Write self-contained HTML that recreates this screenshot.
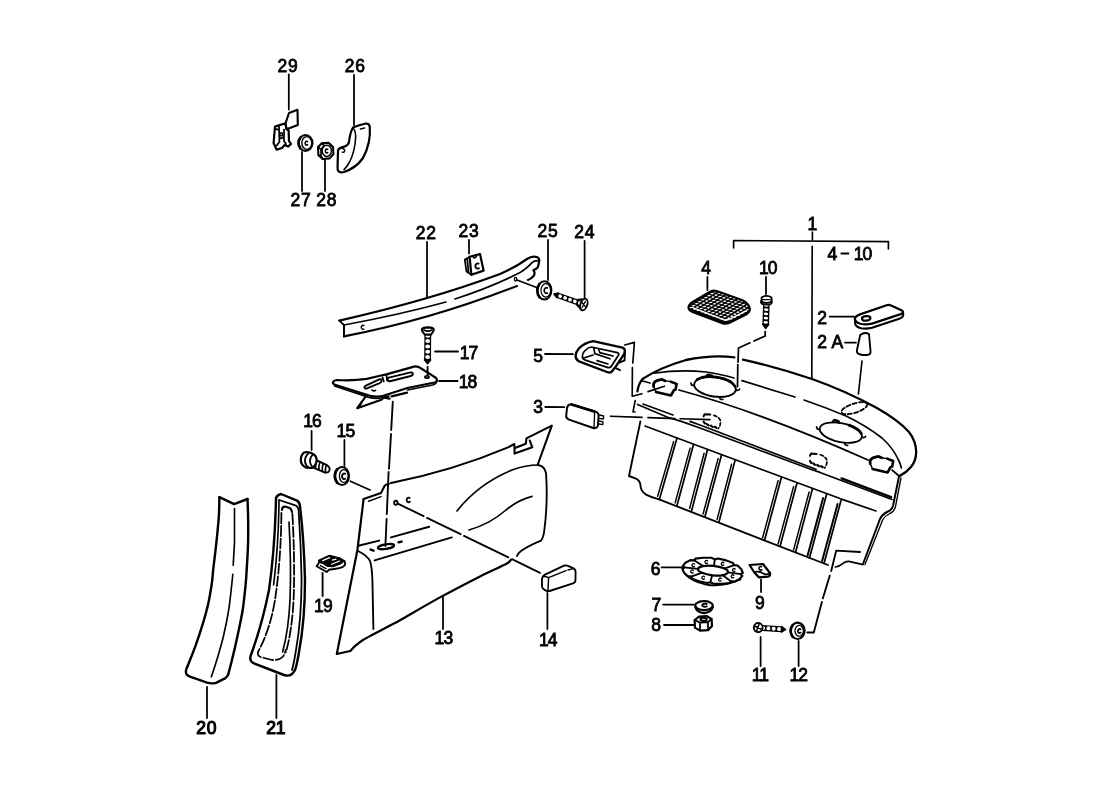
<!DOCTYPE html>
<html lang="en">
<head>
<meta charset="utf-8">
<title>Parts diagram</title>
<style>
html,body{margin:0;padding:0;background:#fff;}
body{width:1100px;height:800px;overflow:hidden;}
svg{display:block;filter:grayscale(1);}
svg path,svg line,svg ellipse,svg circle,svg polyline,svg polygon,svg rect{stroke:#000;fill:none;stroke-linecap:round;stroke-linejoin:round;}
svg text{font-family:"Liberation Sans",sans-serif;font-size:17.5px;fill:#000;stroke:#000;stroke-width:0.8px;letter-spacing:0.7px;}
</style>
</head>
<body>
<svg width="1100" height="800" viewBox="0 0 1100 800">
<rect x="0" y="0" width="1100" height="800" style="fill:#fff;stroke:none"/>
<!-- leaders -->
<line x1="288.8" y1="74.5" x2="288.8" y2="109.6" stroke-width="1.76" />
<line x1="354" y1="75" x2="354" y2="125" stroke-width="1.76" />
<line x1="302" y1="152" x2="302" y2="191" stroke-width="1.76" />
<line x1="325" y1="159" x2="325" y2="191" stroke-width="1.76" />
<line x1="427" y1="242" x2="427" y2="298" stroke-width="1.76" />
<line x1="469" y1="240" x2="469" y2="253.6" stroke-width="1.76" />
<line x1="548" y1="240" x2="548" y2="280" stroke-width="1.76" />
<line x1="584.6" y1="241" x2="584.6" y2="298" stroke-width="1.76" />
<line x1="435" y1="351.5" x2="458" y2="351.5" stroke-width="1.76" />
<line x1="439" y1="381" x2="457.6" y2="381" stroke-width="1.76" />
<line x1="545" y1="354" x2="573" y2="354.2" stroke-width="1.76" />
<line x1="545.3" y1="407" x2="564.4" y2="407.2" stroke-width="1.76" />
<line x1="707.4" y1="277" x2="707.4" y2="290" stroke-width="1.76" />
<line x1="766" y1="277" x2="766" y2="294" stroke-width="1.76" />
<line x1="829.6" y1="316.6" x2="854" y2="316.6" stroke-width="1.76" />
<line x1="845" y1="342.6" x2="856" y2="342.6" stroke-width="1.76" />
<line x1="311.6" y1="431" x2="311.6" y2="450" stroke-width="1.76" />
<line x1="344.4" y1="440" x2="344.4" y2="466" stroke-width="1.76" />
<line x1="443" y1="597" x2="443" y2="629" stroke-width="1.76" />
<line x1="547.4" y1="593" x2="547.4" y2="629" stroke-width="1.76" />
<line x1="661.6" y1="567.4" x2="682" y2="567.4" stroke-width="1.76" />
<line x1="663" y1="604.6" x2="694" y2="604.6" stroke-width="1.76" />
<line x1="664" y1="625" x2="694" y2="625" stroke-width="1.76" />
<line x1="761" y1="579.4" x2="761" y2="592" stroke-width="1.76" />
<line x1="760.6" y1="637" x2="760.6" y2="666" stroke-width="1.76" />
<line x1="798.6" y1="641" x2="798.6" y2="666" stroke-width="1.76" />
<line x1="207" y1="687" x2="207" y2="718" stroke-width="1.76" />
<line x1="276.4" y1="675" x2="276.4" y2="718" stroke-width="1.76" />
<path d="M733.6,248 L733.6,240.6 L888.4,241.6 L888.4,249" stroke-width="1.65" />
<line x1="812.4" y1="232" x2="812.4" y2="240" stroke-width="1.65" />
<line x1="812.2" y1="246.4" x2="811.8" y2="378" stroke-width="1.65" />
<!-- 29 -->
<path d="M289,113 L297.5,109.8 L297.8,125 L286.6,129.2 L285.4,123.6 Z" stroke-width="2.09" />
<path d="M275,126.6 L285.4,123.2 L286.6,129.2 L288.6,130.2 L289,141 L291,144 L288,146.6 L284.6,145 L282,148 L276.6,149.6 L273.6,143 Z" stroke-width="2.2" />
<path d="M279,126.6 L279.4,142 M275,128.6 L279,130 M284,129.6 L284,141 L286,144 M279.4,142 L276.6,145.6 M279.4,138.6 L284,137.4" stroke-width="1.76" />
<ellipse cx="281.2" cy="134.4" rx="1.3" ry="1.6" stroke-width="1.65" />
<!-- 27 -->
<ellipse cx="305.5" cy="143" rx="7" ry="8" stroke-width="2.09" />
<ellipse cx="306.8" cy="143" rx="5" ry="6.4" stroke-width="1.43" />
<path d="M300.4,137.6 A7 8 0 0 0 300.4,148.4" stroke-width="2.6" />
<path d="M307.6,141.6 A1.6 1.9 0 1 0 307.6,144.8" stroke-width="1.54" />
<!-- 28 -->
<path d="M318,147 L321.6,143.4 L328.6,142.8 L333,147 L333.4,154 L329.6,158.4 L322.6,159 L318.4,155 Z" stroke-width="2.09" />
<path d="M318,147 L321,149.4 L321,156 L318.4,155 M321,149.4 L324,145.4 L321.6,143.4 M321,156 L322.6,159" stroke-width="1.65" />
<ellipse cx="326.8" cy="150.8" rx="4.6" ry="5.6" stroke-width="1.54" />
<path d="M327.8,149.4 A1.6 1.9 0 1 0 327.8,152.6" stroke-width="1.54" />
<!-- 26 -->
<path d="M353,127.5 Q359,125 366,123.5 Q369.4,123.4 369.8,127 Q371,143 363,158 Q356,168 344,172 Q339.6,173 338,170.6 Q337.4,169 337.6,166 L338,151 Q338.2,148.6 341,147.6 L345,146.4 Q348.4,145 349,142 Q350,132.6 353,127.5 Z" stroke-width="2.2" />
<path d="M353,128 Q356,131 355.6,138 Q355,151 349.6,162 Q347,166.6 344,169.6" stroke-width="1.54" />
<line x1="360.4" y1="129" x2="364.6" y2="128" stroke-width="1.54" />
<path d="M341.6,148.2 Q345.2,148.8 344.6,151.2 Q344,152.6 342.4,152.2" stroke-width="1.54" />
<!-- 22 -->
<path d="M339.4,320.6 Q430,300 500,274 Q516,267 527,259 Q533,255 538,257.6 Q540,259 539,262 L538,267 Q536,269.6 533.4,270 Q535.6,273 533.6,276 Q531,279 528,280" stroke-width="2.2" />
<path d="M339.4,320.6 L344,325 L344,336.4" stroke-width="1.98" />
<path d="M344,325 Q400,314.6 446,302" stroke-width="1.65" />
<path d="M455,299 Q492,287 520,272.6 Q528,267.4 532,262.6 Q534,260.4 538.6,260.6" stroke-width="1.65" />
<path d="M344,336.4 Q430,320 517,286" stroke-width="2.09" />
<path d="M364,325.6 A1.8 2 0 1 0 364,329" stroke-width="1.32" />
<ellipse cx="515.6" cy="279.2" rx="1.2" ry="1.8" stroke-width="1.32" />
<line x1="517" y1="280" x2="538" y2="288" stroke-width="1.54" />
<!-- 23 -->
<path d="M469.6,256.8 L480,254 L483.6,270.6 L471.4,274.8 Z" stroke-width="2.2" />
<path d="M469.6,257 L464.8,259.6 L466.4,271.4 L471.4,274.8 M467.2,259.2 L468.6,272.6" stroke-width="1.76" />
<path d="M478.6,263.6 A2.4 2.6 0 1 0 479,268.2" stroke-width="1.87" />
<path d="M472.8,256.6 Q474.6,259.6 476.8,255.6" stroke-width="1.65" />
<!-- 25 -->
<ellipse cx="544.4" cy="290.4" rx="7" ry="9.2" stroke-width="1.98" />
<path d="M539.4,284 A7 9.2 0 0 0 539.6,297.4" stroke-width="2.6" />
<ellipse cx="545.8" cy="290.4" rx="4.8" ry="6.8" stroke-width="1.21" />
<path d="M547.4,288 A2.2 2.8 0 1 0 547.4,293" stroke-width="1.65" />
<!-- 24 -->
<path d="M554.0,294.0 L556.9,297.7 L558.6,293.0 Z" stroke-width="1.54" style="fill:#000"/>
<line x1="557.8" y1="295.3" x2="582.2" y2="304.0" stroke-width="5.6" style="stroke-linecap:butt"/>
<ellipse cx="560.2" cy="296.2" rx="1.89" ry="1.80" transform="rotate(19.6 560.2 296.2)" style="fill:#fff;stroke:none"/>
<ellipse cx="565.1" cy="297.9" rx="1.89" ry="1.80" transform="rotate(19.6 565.1 297.9)" style="fill:#fff;stroke:none"/>
<ellipse cx="570.0" cy="299.7" rx="1.89" ry="1.80" transform="rotate(19.6 570.0 299.7)" style="fill:#fff;stroke:none"/>
<ellipse cx="574.9" cy="301.4" rx="1.89" ry="1.80" transform="rotate(19.6 574.9 301.4)" style="fill:#fff;stroke:none"/>
<ellipse cx="579.8" cy="303.2" rx="1.89" ry="1.80" transform="rotate(19.6 579.8 303.2)" style="fill:#fff;stroke:none"/>
<ellipse cx="583.8" cy="304.6" rx="3.4" ry="6" stroke-width="1.87" transform="rotate(19.6 583.8 304.6)" style="fill:#fff"/>
<path d="M578,299.6 L582.6,299 M576.6,304.6 L581.4,309.6" stroke-width="1.54" />
<path d="M581.6,302 L585.6,307 M585.4,301.4 L582,307.6" stroke-width="1.21" />
<!-- 17 -->
<path d="M427.6,363.8 L430.7,359.8 L424.5,359.8 Z" stroke-width="1.54" style="fill:#000"/>
<line x1="427.6" y1="359.8" x2="427.8" y2="333.0" stroke-width="6.8" style="stroke-linecap:butt"/>
<ellipse cx="427.6" cy="357.1" rx="1.98" ry="2.40" transform="rotate(-89.6 427.6 357.1)" style="fill:#fff;stroke:none"/>
<ellipse cx="427.7" cy="351.8" rx="1.98" ry="2.40" transform="rotate(-89.6 427.7 351.8)" style="fill:#fff;stroke:none"/>
<ellipse cx="427.7" cy="346.4" rx="1.98" ry="2.40" transform="rotate(-89.6 427.7 346.4)" style="fill:#fff;stroke:none"/>
<ellipse cx="427.7" cy="341.1" rx="1.98" ry="2.40" transform="rotate(-89.6 427.7 341.1)" style="fill:#fff;stroke:none"/>
<ellipse cx="427.8" cy="335.7" rx="1.98" ry="2.40" transform="rotate(-89.6 427.8 335.7)" style="fill:#fff;stroke:none"/>
<path d="M421.8,329.6 Q422.4,327.6 427.8,327.4 Q433.4,327.6 433.8,329.6 Q433.6,331.6 431,334.6 L424.8,334.6 Q422,331.6 421.8,329.6 Z" stroke-width="2.09" style="fill:#fff"/>
<path d="M424,330 Q427.8,332.2 431.8,330" stroke-width="1.65" />
<line x1="427.6" y1="366.8" x2="427.6" y2="375" stroke-width="1.87" />
<!-- 18 -->
<path d="M332.9,382.6 Q333.4,380.4 337,380 Q352,381 366.7,378.9 L379,376 L386.4,374.4 L414,366.6 Q417.6,366 420.8,368.2 L429.8,373.9 L436,378 Q437.6,379.6 436.4,381.4 Q435,383 432,383 L407.3,388 L388.1,394.2 Q382,396.4 378,396.6 Q374,396.8 370,395.8 L335,384.8 Q332.6,384 332.9,382.6 Z" stroke-width="2.2" />
<path d="M334.6,386 L369,397.4 Q374,398.6 379,398.2 L389,396 M407.6,390 L432.6,385 Q436.6,384 436.8,381" stroke-width="1.65" />
<path d="M365.4,385.8 L379.2,379.4 Q381.8,378.8 381.6,380.8 Q381.4,382.4 379.6,383.2 L367,388.4 Q364.6,388.8 364.4,387.2 Q364.4,386.2 365.4,385.8 Z" stroke-width="1.98" />
<path d="M388.8,377.6 L410.6,372.4 Q413,372.2 412.8,374 Q412.6,375.4 410.8,376 L390,381.2 Q387.6,381.4 387.6,379.6 Q387.6,378.2 388.8,377.6 Z" stroke-width="1.98" />
<path d="M382.6,377.4 L383.8,381.4 M386.6,375 L387,380.4" stroke-width="1.76" />
<path d="M372,390 Q373.6,391.6 375.6,390.4" stroke-width="1.65" />
<ellipse cx="427" cy="377" rx="2.1" ry="1.2" stroke-width="1.65" />
<path d="M365.6,396.6 L357.2,408.2 L381.4,399.8 L383.8,397.4" stroke-width="2.09" />
<path d="M361.6,402.6 L359.4,406.6" stroke-width="1.76" />
<path d="M384.8,397.6 L389.4,398.6 M391.6,396.4 L407,392.6" stroke-width="2.4" />
<!-- 16 -->
<path d="M313,458.6 L327,465.2 Q330.4,467.4 329.4,470.6 Q328,473.4 324.6,472.4 L311,466.6 Z" stroke-width="1.87" style="fill:#fff"/>
<path d="M316.6,460.6 Q315,463.6 315.6,468.4 M320,462.2 Q318.4,465.4 319,470 M323.2,463.8 Q321.8,467 322.4,471.4 M326.2,465.2 Q325,468.4 325.6,472.4" stroke-width="1.65" />
<path d="M304,452.6 Q307,451.4 310.6,452.8 L314.6,455 Q317.6,458 316.2,463 Q314.6,467.2 311.4,468 L306,467.6 Q301,465.4 300.8,460 Q300.8,455 304,452.6 Z" stroke-width="2.2" style="fill:#fff"/>
<path d="M308.4,453.4 Q304.6,457 305,461.6 Q305.6,465.6 308.6,467.4" stroke-width="1.87" />
<path d="M312.4,455 Q309.6,458 310,462 Q310.6,465.4 312.4,467" stroke-width="1.65" />
<!-- 15 -->
<ellipse cx="342" cy="476" rx="7" ry="9" stroke-width="2.09" />
<path d="M337,469.4 A7 9 0 0 0 337.2,482.8" stroke-width="2.8" />
<ellipse cx="343.8" cy="476" rx="4.4" ry="6.4" stroke-width="1.32" />
<path d="M345.2,473.8 A2.2 2.8 0 1 0 345.2,478.8" stroke-width="1.87" />
<line x1="350.4" y1="481.2" x2="370" y2="490" stroke-width="1.76" />
<!-- 13 -->
<path d="M391,483 Q452,471 508,447.4 L514.3,444 L514.6,453.6 L532.3,447.3 L529.8,440.6" stroke-width="2.09" />
<path d="M515,448 L525.8,443.8 L526.4,438.4 L551.8,425.6 L537.6,465" stroke-width="2.09" />
<path d="M538,465 Q544.6,466 546,473 Q548,500 544.6,528 Q543.6,538 541,540.6 Q528,546 521,551 Q517.6,553.6 517,556" stroke-width="1.87" />
<path d="M457,511 Q478,484 512,470 Q526,465 538,465" stroke-width="1.65" />
<path d="M469,530 Q490,524 506,510 Q518,500 532,496.4" stroke-width="1.65" />
<path d="M363.6,499 L381,493 L384.6,485.8 Q386,484.4 389,484" stroke-width="2.09" />
<line x1="368.6" y1="501.2" x2="381" y2="496.6" stroke-width="1.54" />
<path d="M363.6,499 L357.4,550 L336.8,654 L350.2,651" stroke-width="2.2" />
<path d="M350.2,651.0 C351.1,650.1 353.7,647.2 355.8,645.4 C357.9,643.6 360.3,641.7 363.0,640.0 C365.7,638.3 367.5,637.4 372.0,635.0 C376.5,632.6 385.3,628.1 390.0,625.6 C394.7,623.1 391.7,624.9 400.0,620.2 C408.3,615.5 426.7,604.7 440.0,597.4 C453.3,590.1 469.0,582.0 480.0,576.4 C491.0,570.8 500.8,566.8 506.0,564.0 C511.2,561.2 510.2,560.3 511.0,559.6" stroke-width="2.2" />
<path d="M358.4,545.8 L379.2,540.6 M391,537.4 L429.2,526.8" stroke-width="1.98" />
<line x1="374.6" y1="560.4" x2="451.8" y2="537.4" stroke-width="1.98" />
<path d="M358,551 Q367,555.4 370,561 Q372,567 372.4,580 L373.4,629" stroke-width="1.87" />
<ellipse cx="386" cy="546.6" rx="8.2" ry="2.3" stroke-width="2.2" transform="rotate(-9 386 546.6)" />
<path d="M370.6,549.6 L373.6,550.6 M398.6,542.2 L401.6,541.6" stroke-width="2.42" />
<ellipse cx="395.8" cy="502.8" rx="1.7" ry="2.1" stroke-width="1.87" />
<path d="M409.6,498 A1.9 2.3 0 1 0 409.8,501.6" stroke-width="1.87" />
<path d="M397.8,503.6 L423.6,516.2 M427,517.9 L460.6,534.2 M464,535.9 L508.4,557.4 M512,559.2 L540,572.8" stroke-width="1.87" />
<path d="M392.8,401.6 L391.2,430 M391,434 L389,468.6 M388.6,472 L386.8,514 M386.6,519 L385.4,546" stroke-width="1.87" />
<!-- 14 -->
<path d="M542,578.6 Q542.4,576 545,574.6 L564,565.6 Q566,565 568,565.8 L574,568.6 Q575.6,569.6 575.6,572 L575.4,581 Q575,582.6 573,583.4 L549.6,591 Q547.6,591.4 546,590.6 L543.4,589 Q542,588 542,586 Z" stroke-width="1.87" />
<path d="M548.6,577.6 L548,590.6 M543,576.6 Q546,576.4 548.6,577.6 L566,570.6 M568,570 L573,568.6" stroke-width="1.43" />
<!-- 20 -->
<path d="M219.4,497.1 L234.1,504.2 L247.5,499" stroke-width="2.42" />
<path d="M219.4,497.1 C219.3,500.4 219.3,509.3 218.8,516.9 C218.3,524.4 217.3,533.9 216.4,542.4 C215.5,550.9 214.2,560.8 213.4,567.9 C212.6,575.0 212.5,579.0 211.6,585.0 C210.7,591.0 209.6,597.7 208.2,604.1 C206.8,610.5 205.1,616.2 203.0,623.2 C200.9,630.2 198.0,639.0 195.4,646.2 C192.8,653.4 188.7,663.2 187.4,666.6" stroke-width="2.42" />
<path d="M187.4,666.6 Q185,671.6 186.4,674 Q187.4,675.6 190,676.6 L207,682.6 Q212,684 216,682.8 L225,678.4 Q227.4,677 228.2,674.4" stroke-width="2.42" />
<path d="M247.5,499.0 C247.6,502.0 248.0,509.7 248.1,516.9 C248.2,524.1 248.3,533.9 248.1,542.4 C247.9,550.9 247.2,560.8 246.8,567.9 C246.4,575.0 246.3,577.9 245.6,585.0 C244.9,592.1 243.9,602.0 242.6,610.5 C241.2,619.0 239.3,627.5 237.5,636.0 C235.7,644.5 233.2,655.1 231.6,661.5 C230.0,667.9 228.8,672.2 228.2,674.4" stroke-width="2.42" />
<path d="M234.5,508.6 L234.5,542.4 L233.2,565.3" stroke-width="1.65" />
<path d="M232.8,574.3 C232.6,576.1 232.4,579.0 231.7,585.0 C231.0,591.0 230.0,602.0 228.6,610.5 C227.2,619.0 225.4,627.9 223.5,636.0 C221.6,644.1 219.1,652.2 217.1,659.0 C215.1,665.8 212.3,673.8 211.3,676.8" stroke-width="1.65" />
<!-- 21 -->
<path d="M276,498 Q277,495 281,494 L297,500.6 Q299.6,502 300,506 Q304,540 305,580 Q305,620 299,652 Q297,664 295.4,669 Q293,675 288,675.6 Q286,675.6 284,675 L254,663.4 Q249,661 250.6,656 Q262,625 269,590 Q275,548 276,498 Z" stroke-width="2.42" />
<path d="M279,500 L296,505.6 Q298,506.6 298.6,510 Q301,545 301.6,580 Q301.4,620 296,650 Q294,663 292,670" stroke-width="1.76" />
<path d="M279,500 Q278.6,545 273.6,585" stroke-width="1.65" />
<path d="M282,510 Q282,506.6 285,506.6 L289.6,508 Q291.6,509 292,512" stroke-width="2.09" />
<path d="M281.4,513 Q281,560 275,600 Q270,630 258,652 Q257,655.4 260.6,657 L272,660 Q279,660.6 282.6,657 Q284.6,655 285.6,650" stroke-width="1.76" stroke-dasharray="10 2.6"/>
<path d="M292.4,514 Q295,560 293.6,600 Q292,630 286,652" stroke-width="1.76" stroke-dasharray="10 2.6"/>
<path d="M289,522 Q291.4,565 290,600 Q288.6,630 282.6,652" stroke-width="1.65" />
<!-- 19 -->
<path d="M318.6,560.4 L329.3,555.4 L339.5,557.8 L344.4,560.8 L341,563.6 L333,566.6 L327.6,566.4 L323,563.4 L318.6,562.4 Z" style="fill:#000;stroke:#000" stroke-width="1.2"/>
<path d="M322.6,560.6 L329.6,557.6 M332.4,560.2 L336,559.2 M331.6,564.2 L339.6,561" style="stroke:#fff" stroke-width="1.2"/>
<path d="M318.6,563.4 L316.6,566.2 L326.7,572 L328.8,569.8 L334.4,569 Q340,568.4 342.4,567.2 Q345.4,565.4 345.2,563.4 L344.4,560.8" stroke-width="1.87" />
<path d="M320.4,565.6 L326,568.6" stroke-width="1.43" />
<line x1="322.6" y1="573" x2="322.6" y2="596" stroke-width="1.87" />
<!-- 5 -->
<path d="M575.6,355.8 Q575.8,352 578.8,348.6 Q584,343 593.2,341.2 L622.4,347.6 Q625.2,348.6 624.8,351.6 L624.2,354 L615,367.6 L611.4,372 Q609.6,373 607,372 L579,361.4 Q575.6,359.6 575.6,355.8 Z" stroke-width="2.31" />
<path d="M582.4,356.4 Q582.6,353 584.6,351 Q588,347.4 591.4,347 L617.4,352.6 Q619.2,353.4 618.6,355 L611.2,366.4 Q610,368 608,367.6 L585.4,360.2 Q582.4,359 582.4,356.4 Z" stroke-width="1.76" />
<path d="M593.8,348.2 L594.8,353.6 L610,358.8 M598.8,349.8 L599.8,352.6 L613,356 M583.8,358 L593,355 M597,360.6 L608,364" stroke-width="1.65" />
<path d="M625,349.6 L624.6,360.4 L618.2,363.2 M615.2,367.8 L620,370.2" stroke-width="1.87" />
<path d="M624.8,345 L634.4,342.4 L632.8,363 M632.4,367.6 L632.2,396.2 L642,393.8 M648,391.6 L664.4,386.2" stroke-width="1.65" />
<path d="M635.2,400.6 L633,411.8 L635,412" stroke-width="1.65" />
<!-- 3 -->
<path d="M567,408 Q567.6,404.4 571,404.2 L596,411.8 Q598.6,412.8 598.6,415.6 L598,425 Q597.6,428.4 594,428.2 L569,419.6 Q566.2,418.6 566.2,416 Z" stroke-width="1.98" />
<path d="M571.6,404.4 L594,411.4" stroke-width="2.6" />
<path d="M594.6,412.6 L594,427.6" stroke-width="1.32" />
<path d="M599.6,415 L603.6,416 L603.4,419 L599.4,418.4 M599.4,421 L603,421.8 L602.8,424.6 L599,424" stroke-width="1.32" />
<path d="M610.6,416.2 L642,417.4 M648,417.6 L675,418.6 M680,418.8 L710,419.6" stroke-width="1.65" />
<!-- 4 -->
<defs><pattern id="gr" width="1" height="1" patternUnits="userSpaceOnUse" patternTransform="matrix(3.9 1.38 3.1 -2.0 690 306)"><rect x="0" y="0" width="1" height="1" style="fill:#000;stroke:none"/><rect x="0.22" y="0.2" width="0.58" height="0.6" rx="0.15" style="fill:#fff;stroke:none"/></pattern></defs>
<path d="M688.6,306.6 Q689,304.6 691,303 L710,291.6 Q713,290 716.6,291 L742,300 Q746,301.6 748,304.6 Q750.4,308 749.6,310.6 Q749,312.6 746,314.6 L730,322.6 Q726.6,324.2 723,323.4 L692,311.6 Q688,309.6 688.6,306.6 Z" style="fill:url(#gr);stroke:#000" stroke-width="2.2"/>
<path d="M692,307.4 L723.4,319.6 Q726.6,320.6 729.6,319.2 L746.6,310.6" style="stroke:#fff" stroke-width="1.3"/>
<path d="M691,309.6 L723.2,322 Q726.6,322.8 729.8,321.6 L747.6,312.6" stroke-width="1.65" />
<!-- 10 -->
<path d="M765.6,328.4 L768.7,324.5 L762.7,324.3 Z" stroke-width="1.54" style="fill:#000"/>
<line x1="765.7" y1="324.4" x2="766.4" y2="303.3" stroke-width="6.6" style="stroke-linecap:butt"/>
<ellipse cx="765.8" cy="322.3" rx="1.41" ry="2.30" transform="rotate(-88.3 765.8 322.3)" style="fill:#fff;stroke:none"/>
<ellipse cx="765.9" cy="318.1" rx="1.41" ry="2.30" transform="rotate(-88.3 765.9 318.1)" style="fill:#fff;stroke:none"/>
<ellipse cx="766.0" cy="313.9" rx="1.41" ry="2.30" transform="rotate(-88.3 766.0 313.9)" style="fill:#fff;stroke:none"/>
<ellipse cx="766.2" cy="309.6" rx="1.41" ry="2.30" transform="rotate(-88.3 766.2 309.6)" style="fill:#fff;stroke:none"/>
<ellipse cx="766.3" cy="305.4" rx="1.41" ry="2.30" transform="rotate(-88.3 766.3 305.4)" style="fill:#fff;stroke:none"/>
<ellipse cx="766.4" cy="302" rx="2.6" ry="5.4" stroke-width="1.87" transform="rotate(-88.3 766.4 302)" style="fill:#fff"/>
<path d="M761.6,297.4 Q766.6,294.4 771.6,297.4 L771.6,301.6 Q766.6,304.4 761.6,301.6 Z" stroke-width="1.76" style="fill:#fff"/>
<line x1="762.6" y1="299.6" x2="770.6" y2="299.6" stroke-width="1.32" />
<path d="M765.2,331.6 L765.2,336 L754,341 M750,342.8 L738.5,348 L738,362 M737.8,364.6 L737.5,386.6" stroke-width="1.76" />
<!-- 2 -->
<path d="M854.8,319 Q854.8,316.4 860,314.4 L886.6,305.2 Q889,304.6 891,305.4 L902,310.6 Q903.6,311.8 902.4,313.2 L900,314.4 L872,323.6 Q866,325 860.6,323.8 Q855.4,322.4 854.8,319 Z" stroke-width="2.2" />
<path d="M855,320.6 L855.2,324 Q856,327 861,328.2 Q866,329.2 872,327.8 L900,318.4 Q903.4,317 903.2,314.6 L903,311.8" stroke-width="2.09" />
<ellipse cx="866.2" cy="318.4" rx="4.2" ry="2.2" stroke-width="2.2" transform="rotate(-6 866.2 318.4)" />
<!-- 2A -->
<path d="M860.2,335 Q864.6,331.6 869,334 L870.6,352 Q870.6,354.6 867,355 Q860,355.4 857.4,353 Q856.6,352 857,350 Z" stroke-width="1.87" />
<!-- shelf -->
<path d="M637.4,391.4 Q638.6,383 643,378.6 Q660,367.6 686,360 Q712,354.6 734.4,357.4" stroke-width="2.31" />
<path d="M743,359.6 Q776,367 812,379 Q846,391 876,407.6 Q898,420 909,432 Q916,441 916.2,452 Q916,461 911,467 Q906,473 899,476.4" stroke-width="2.31" />
<path d="M654,373.2 Q680,369.4 706,372 Q722,374.6 734,378" stroke-width="1.65" />
<path d="M742,380.6 L795,397 M804,400 Q826,407.6 846,416 Q866,425.6 882,438 Q893,448 898,459 Q900.6,464 901.4,468" stroke-width="1.65" />
<path d="M642.6,381 L650,383 M679,390 Q760,412 868,460" stroke-width="1.76" />
<path d="M892,470 L899,476" stroke-width="1.65" />
<path d="M637.6,404.4 L667,417 L682,421.6 L700,428 L810,469 L820,472.4 L892,499.4" stroke-width="1.65" />
<path d="M643,404 L673,415 M690,421.4 L700,425 L810,467 L816,469.2" stroke-width="1.65" />
<path d="M841.6,478.4 L891,497.2" stroke-width="2.42" />
<path d="M645,426 L736,460 L840,498.6 L876,511" stroke-width="1.65" />
<path d="M640.4,421.4 L634.4,450 L629,476 L636,478.6 Q640,480.6 640.4,485 Q640.6,491 646,494.6 Q652,497.6 659,499.4 L828,565" stroke-width="1.87" />
<path d="M899,476.4 L893,506 Q892,510 887,512 Q882,514.6 880,519 L863,564" stroke-width="1.98" />
<path d="M901,478 L895.4,507 Q894,512 889,514 Q884.6,516 882.6,520 L865,564.6" stroke-width="1.32" />
<path d="M863,564.6 L850,561.6 Q846,561 843,563.4 Q839.6,566.4 835.4,567" stroke-width="1.76" />
<line x1="677" y1="438" x2="659.5" y2="499" stroke-width="1.71" />
<line x1="673.6" y1="441.6" x2="657.6" y2="496.4" stroke-width="1.49" />
<line x1="693.5" y1="444.5" x2="677" y2="505.5" stroke-width="1.71" />
<line x1="690.1" y1="448.1" x2="675.1" y2="502.9" stroke-width="1.49" />
<line x1="707.5" y1="449.7" x2="691.5" y2="511" stroke-width="1.71" />
<line x1="704.1" y1="453.3" x2="689.6" y2="508.4" stroke-width="1.49" />
<line x1="721.5" y1="455" x2="705" y2="516.5" stroke-width="1.71" />
<line x1="718.1" y1="458.6" x2="703.1" y2="513.9" stroke-width="1.49" />
<line x1="735" y1="460.6" x2="719" y2="522" stroke-width="1.71" />
<line x1="731.6" y1="464.20000000000005" x2="717.1" y2="519.4" stroke-width="1.49" />
<line x1="781.5" y1="477" x2="764.5" y2="540.5" stroke-width="1.71" />
<line x1="778.1" y1="480.6" x2="762.6" y2="537.9" stroke-width="1.49" />
<line x1="797" y1="483" x2="780" y2="546.5" stroke-width="1.71" />
<line x1="793.6" y1="486.6" x2="778.1" y2="543.9" stroke-width="1.49" />
<line x1="812.5" y1="488.5" x2="795.5" y2="552.5" stroke-width="1.71" />
<line x1="809.1" y1="492.1" x2="793.6" y2="549.9" stroke-width="1.49" />
<line x1="826.5" y1="494.5" x2="809.5" y2="558" stroke-width="1.71" />
<line x1="823.1" y1="498.1" x2="807.6" y2="555.4" stroke-width="1.98" />
<line x1="841" y1="500.5" x2="824" y2="563.5" stroke-width="1.71" />
<line x1="837.6" y1="504.1" x2="822.1" y2="560.9" stroke-width="1.98" />
<ellipse cx="715" cy="387" rx="21" ry="9.6" stroke-width="1.87" transform="rotate(8 715 387)" />
<g transform="rotate(8 715 387)">
<path d="M690.6,386.4 Q691.4,389 694,388.4" stroke-width="1.65" />
<path d="M739.6,385.6 Q739,387.6 736,387.2" stroke-width="1.65" />
<path d="M721,396.6 Q721.4,399.0 724.4,398.20000000000005" stroke-width="1.65" />
<path d="M705,378.0 L706,375.79999999999995 L710.4,376.2 L711,377.59999999999997" stroke-width="2.42" />
<path d="M696.1,382.2 A21 9.6 0 0 1 734.74,383.544" stroke-width="2.6" />
</g>
<ellipse cx="840.8" cy="432.6" rx="21.5" ry="9.4" stroke-width="1.87" transform="rotate(12 840.8 432.6)" />
<g transform="rotate(12 840.8 432.6)">
<path d="M815.9,432.0 Q816.6999999999999,434.6 819.3,434.0" stroke-width="1.65" />
<path d="M865.9,431.20000000000005 Q865.3,433.20000000000005 862.3,432.8" stroke-width="1.65" />
<path d="M846.8,442.0 Q847.1999999999999,444.4 850.1999999999999,443.6" stroke-width="1.65" />
<path d="M830.8,423.80000000000007 L831.8,421.6 L836.1999999999999,422.00000000000006 L836.8,423.40000000000003" stroke-width="2.42" />
<path d="M847.25,423.576 A21.5 9.4 0 0 1 861.01,429.216" stroke-width="2.8" />
</g>
<path d="M653.6,386.6 Q652.6,382 657.6,380.4 L662,379.4 L665,380.8" stroke-width="2.8" />
<path d="M670.6,381.6 L676.6,384 L675.6,389.6" stroke-width="2.6" />
<path d="M656,392 L671,395.4 L674,390" stroke-width="2.6" />
<path d="M665,380.8 L670.6,381.6 M653.6,386.6 L656,392" stroke-width="1.43" />
<path d="M870.2,463.6 Q869.2,459 874.2,457.4 L878.6,456.4 L881.6,457.8" stroke-width="2.8" />
<path d="M887.2,458.6 L893.2,461 L892.2,466.6" stroke-width="2.6" />
<path d="M872.6,469 L887.6,472.4 L890.6,467" stroke-width="2.6" />
<path d="M881.6,457.8 L887.2,458.6 M870.2,463.6 L872.6,469" stroke-width="1.43" />
<path d="M703.6,416.4 L704.6,414.2 L710.2,414.6" stroke-width="1.98" />
<path d="M713.8000000000001,415.4 Q718.2,416.6 720.2,420 Q721.0,423 719.6,426.6 L718.2,428.6" stroke-width="1.65" stroke-dasharray="3.2 2.2"/>
<path d="M703.6,421.6 L704.8000000000001,423.4 M706.8000000000001,424 L708.6,425.4 M710.8000000000001,425.6 L712.6,426.8 M714.8000000000001,426.8 L716.4000000000001,427.8" stroke-width="2.2" />
<path d="M810.0,455.79999999999995 L811.0,453.59999999999997 L816.6,454.0" stroke-width="1.98" />
<path d="M820.2,454.79999999999995 Q824.6,456.0 826.6,459.4 Q827.4,462.4 826.0,466.0 L824.6,468.0" stroke-width="1.65" stroke-dasharray="3.2 2.2"/>
<path d="M810.0,461.0 L811.2,462.79999999999995 M813.2,463.4 L815.0,464.79999999999995 M817.2,465.0 L819.0,466.2 M821.2,466.2 L822.8000000000001,467.2" stroke-width="2.2" />
<ellipse cx="854.4" cy="408.2" rx="13.6" ry="4.6" stroke-width="1.87" transform="rotate(-18 854.4 408.2)" stroke-dasharray="4 2.4"/>
<line x1="862" y1="361" x2="858.4" y2="394" stroke-width="1.65" />
<path d="M807.4,632.5 L813.8,632.5 L821.9,602 M822.8,598.4 L829.8,575.6 M831.2,571 L836.2,550.6 L860,552" stroke-width="1.87" />
<!-- 6 -->
<path d="M742.7,572.6 L740.4,576.0 L735.9,579.1 L731.8,579.3 L730.9,581.1 L723.5,582.8 L715.2,583.7 L711.6,582.4 L708.4,583.6 L700.2,582.6 L693.1,580.7 L692.0,578.7 L688.3,578.6 L684.2,575.4 L682.3,571.9 L684.4,570.4 L682.5,569.0 L684.8,565.6 L689.3,562.5 L693.4,562.3 L694.3,560.5 L701.7,558.8 L710.0,557.9 L713.6,559.2 L716.8,558.0 L725.0,559.0 L732.1,560.9 L733.2,562.9 L736.9,563.0 L741.0,566.2 L742.9,569.7 L740.8,571.2Z" stroke-width="2.1" transform="rotate(6 712.6 570.8)"/>
<ellipse cx="713" cy="570.6" rx="15" ry="4.8" stroke-width="2.2" transform="rotate(6 713 570.6)" />
<path d="M684.6,573.6 Q691,581.6 706,584.6 Q722,587.6 740.6,579.6" stroke-width="1.65" />
<line x1="728.0" y1="570.8" x2="741.2" y2="571.2" stroke-width="1.87" transform="rotate(6 712.6 570.8)"/>
<line x1="723.2" y1="574.1" x2="732.1" y2="579.4" stroke-width="1.87" transform="rotate(6 712.6 570.8)"/>
<line x1="712.5" y1="575.4" x2="711.6" y2="582.6" stroke-width="1.87" transform="rotate(6 712.6 570.8)"/>
<line x1="702.0" y1="573.9" x2="691.7" y2="578.8" stroke-width="1.87" transform="rotate(6 712.6 570.8)"/>
<line x1="698.0" y1="570.4" x2="684.0" y2="570.4" stroke-width="1.87" transform="rotate(6 712.6 570.8)"/>
<line x1="702.8" y1="567.1" x2="693.1" y2="562.2" stroke-width="1.87" transform="rotate(6 712.6 570.8)"/>
<line x1="713.5" y1="565.8" x2="713.6" y2="559.0" stroke-width="1.87" transform="rotate(6 712.6 570.8)"/>
<line x1="724.0" y1="567.3" x2="733.5" y2="562.8" stroke-width="1.87" transform="rotate(6 712.6 570.8)"/>
<path d="M734.2,573.1 A1.5 1.5 0 1 0 734.2,575.3" stroke-width="1.3" transform="rotate(6 712.6 570.8)"/>
<path d="M722.0,577.6 A1.5 1.5 0 1 0 722.0,579.8" stroke-width="1.3" transform="rotate(6 712.6 570.8)"/>
<path d="M705.2,577.5 A1.5 1.5 0 1 0 705.2,579.7" stroke-width="1.3" transform="rotate(6 712.6 570.8)"/>
<path d="M693.4,572.5 A1.5 1.5 0 1 0 693.4,574.7" stroke-width="1.3" transform="rotate(6 712.6 570.8)"/>
<path d="M694.0,566.1 A1.5 1.5 0 1 0 694.0,568.3" stroke-width="1.3" transform="rotate(6 712.6 570.8)"/>
<path d="M706.6,561.5 A1.5 1.5 0 1 0 706.6,563.7" stroke-width="1.3" transform="rotate(6 712.6 570.8)"/>
<path d="M723.0,561.7 A1.5 1.5 0 1 0 723.0,563.9" stroke-width="1.3" transform="rotate(6 712.6 570.8)"/>
<path d="M734.8,566.7 A1.5 1.5 0 1 0 734.8,568.9" stroke-width="1.3" transform="rotate(6 712.6 570.8)"/>
<!-- 9 -->
<path d="M749.6,565 L763,564 L770,573 Q770.6,576 768,576.6 L759,577.4 Q756.6,575 754,572 Z" stroke-width="2.2" />
<path d="M754,572 Q760,570.6 763,573.4 Q766,575.6 770,573" stroke-width="1.76" />
<path d="M761.4,566.6 A1.8 1.8 0 1 0 761.8,569.8" stroke-width="1.65" />
<!-- 7 -->
<ellipse cx="704" cy="605.6" rx="8.8" ry="4.4" stroke-width="2.2" />
<path d="M695.4,607 Q697,612.8 704,613 Q711,612.8 712.8,607" stroke-width="2.4" />
<path d="M706.6,604 A2.8 1.5 0 1 0 706.8,606.4" stroke-width="1.87" />
<!-- 8 -->
<path d="M694.6,620 L699,616.6 L707,616.2 L711.6,619 L712,626 L708,630.2 L700,630.6 L695,627.6 Z" stroke-width="2.2" />
<path d="M694.6,620 L700,622.6 L708,622 L711.6,619 M700,622.6 L700,630.6 M708,622 L708,630.2" stroke-width="1.76" />
<ellipse cx="703.6" cy="619.2" rx="3" ry="1.6" stroke-width="2.2" />
<!-- 11 -->
<path d="M785.6,629.6 L781.8,626.6 L781.4,632.0 Z" stroke-width="1.54" style="fill:#000"/>
<line x1="781.6" y1="629.3" x2="760.4" y2="627.8" stroke-width="6.0" style="stroke-linecap:butt"/>
<ellipse cx="779.0" cy="629.1" rx="1.96" ry="2.00" transform="rotate(-175.8 779.0 629.1)" style="fill:#fff;stroke:none"/>
<ellipse cx="773.7" cy="628.7" rx="1.96" ry="2.00" transform="rotate(-175.8 773.7 628.7)" style="fill:#fff;stroke:none"/>
<ellipse cx="768.4" cy="628.3" rx="1.96" ry="2.00" transform="rotate(-175.8 768.4 628.3)" style="fill:#fff;stroke:none"/>
<ellipse cx="763.0" cy="628.0" rx="1.96" ry="2.00" transform="rotate(-175.8 763.0 628.0)" style="fill:#fff;stroke:none"/>
<ellipse cx="758.2" cy="627.6" rx="4.4" ry="4.6" stroke-width="1.87" transform="rotate(-175.8 758.2 627.6)" style="fill:#fff"/>
<path d="M754.6,626 L761,629 M756.6,631 L759,624.4" stroke-width="1.54" />
<!-- 12 -->
<ellipse cx="797.6" cy="630.8" rx="7" ry="8.2" stroke-width="2.2" />
<path d="M792.6,625.2 A7 8.2 0 0 0 792.8,636.8" stroke-width="2.6" />
<ellipse cx="799.2" cy="630.8" rx="4.2" ry="5.4" stroke-width="1.32" />
<path d="M800.6,629.4 A1.7 2 0 1 0 800.6,632.6" stroke-width="1.76" />
<text x="288" y="72" text-anchor="middle">29</text>
<text x="355.2" y="72" text-anchor="middle">26</text>
<text x="301" y="206" text-anchor="middle">27</text>
<text x="326.7" y="206" text-anchor="middle">28</text>
<text x="426.2" y="239.4" text-anchor="middle">22</text>
<text x="469" y="237" text-anchor="middle">23</text>
<text x="548" y="237" text-anchor="middle">25</text>
<text x="584.8" y="238.4" text-anchor="middle">24</text>
<text x="468.6" y="358.7" text-anchor="middle" style="letter-spacing:-0.9px;">17</text>
<text x="467.6" y="388" text-anchor="middle" style="letter-spacing:-0.9px;">18</text>
<text x="538.5" y="361.8" text-anchor="middle">5</text>
<text x="538.5" y="413.25" text-anchor="middle">3</text>
<text x="812.6" y="229.6" text-anchor="middle">1</text>
<text x="832.6" y="259.6" text-anchor="middle">4</text>
<text x="845.2" y="257" text-anchor="middle" style="font-size:14px;">–</text>
<text x="862.6" y="259.6" text-anchor="middle" style="letter-spacing:-0.9px;">10</text>
<text x="706.4" y="273.6" text-anchor="middle">4</text>
<text x="767.8" y="274.4" text-anchor="middle" style="letter-spacing:-0.9px;">10</text>
<text x="822.5" y="324" text-anchor="middle">2</text>
<text x="822.5" y="348" text-anchor="middle">2</text>
<text x="837.8" y="348" text-anchor="middle">A</text>
<text x="312.0" y="427" text-anchor="middle" style="letter-spacing:-0.9px;">16</text>
<text x="345.4" y="437.4" text-anchor="middle" style="letter-spacing:-0.9px;">15</text>
<text x="322.9" y="612.4" text-anchor="middle" style="letter-spacing:-0.9px;">19</text>
<text x="443.4" y="644.4" text-anchor="middle" style="letter-spacing:-0.9px;">13</text>
<text x="547.8" y="645.6" text-anchor="middle" style="letter-spacing:-0.9px;">14</text>
<text x="656" y="574.6" text-anchor="middle">6</text>
<text x="656.7" y="610.6" text-anchor="middle">7</text>
<text x="656.5" y="631" text-anchor="middle">8</text>
<text x="760.2" y="608.6" text-anchor="middle">9</text>
<text x="759.9" y="681" text-anchor="middle" style="letter-spacing:-0.9px;">11</text>
<text x="798.3" y="681" text-anchor="middle" style="letter-spacing:-0.9px;">12</text>
<text x="206.8" y="733.6" text-anchor="middle" style="stroke-width:1.15px;">20</text>
<text x="275.8" y="733.6" text-anchor="middle" style="stroke-width:1.15px;letter-spacing:-0.2px;">21</text>
</svg>
</body>
</html>
